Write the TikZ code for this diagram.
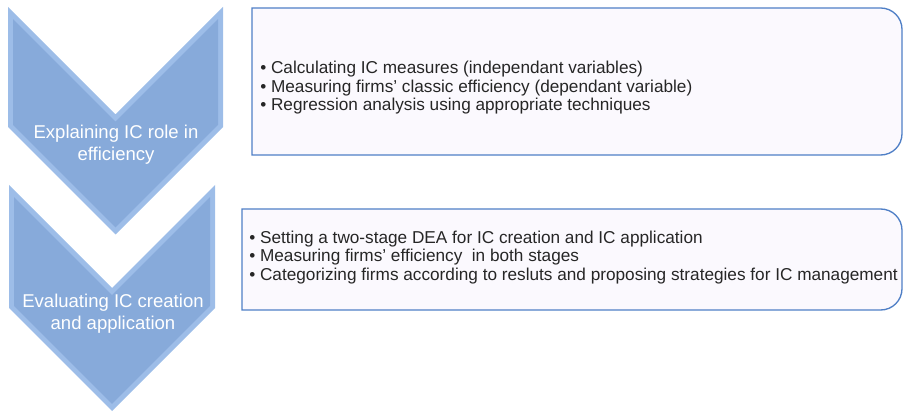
\documentclass[tikz,border=0pt]{standalone}
\usepackage{fontspec}
\setmainfont{Liberation Sans}
\usepackage{tikz}
\usetikzlibrary{positioning}
\definecolor{chevedge}{HTML}{9DBDE8}
\definecolor{chevface}{HTML}{87AADA}
\definecolor{boxline}{HTML}{4F7FC6}
\definecolor{boxfill}{HTML}{FBF9FE}
\tikzset{
  chevout/.style={fill=chevedge,draw=none},
  chevin/.style={fill=chevface,draw=none},
  chevtext/.style={text=white,align=center,inner sep=0.75pt,font=\fontsize{13.9}{16.5}\selectfont},
  taskbox/.style={draw=boxline,fill=boxfill,line width=1pt},
  tasktext/.style={anchor=west,align=left,inner sep=0pt,text=black!85,font=\fontsize{12.9}{13.9}\selectfont}
}

\begin{document}
\begin{tikzpicture}[x=0.75pt,y=0.75pt,yscale=-1,xscale=1]
\useasboundingbox (0,0) rectangle (903,413);

%Shape: Chevron upper
\draw [chevout] (8,7) -- (115.5,114.5) -- (223,7) -- (223,127) -- (115.5,234.5) -- (8,127) -- cycle ;
\draw [chevin] (13,19.1) -- (115.5,121.6) -- (218,19.1) -- (218,124.9) -- (115.5,227.4) -- (13,124.9) -- cycle ;
%Shape: Chevron lower
\draw [chevout] (9,185) -- (112,288) -- (215,185) -- (215,308) -- (112,411) -- (9,308) -- cycle ;
\draw [chevin] (14,197.1) -- (112,295.1) -- (210,197.1) -- (210,305.9) -- (112,403.9) -- (14,305.9) -- cycle ;

%Shape: Box upper (right side rounded)
\draw [taskbox] (252,155) -- (252,8) [rounded corners=16] -- (902,8) -- (902,155) [sharp corners] -- cycle ;
%Shape: Box lower (right side rounded)
\draw [taskbox] (242,310) -- (242,209) [rounded corners=16] -- (902,209) -- (902,310) [sharp corners] -- cycle ;

% Text Node
\draw (116,145) node [chevtext] (explain) {Explaining IC role in\\efficiency};
% Text Node
\draw (113,314) node [chevtext] (evaluate) {Evaluating IC creation\\and application};
% Text Node
\draw (260,88) node [tasktext] (regtasks) {\textbullet\ Calculating IC measures (independant variables)\\
\textbullet\ Measuring firms' classic efficiency (dependant variable)\\
\textbullet\ Regression analysis using appropriate techniques};
% Text Node
\draw (249,257.5) node [tasktext] (deatasks) {\textbullet\ Setting a two-stage DEA for IC creation and IC application\\
\textbullet\ Measuring firms' efficiency\ \ in both stages\\
\textbullet\ Categorizing firms according to resluts and proposing strategies for IC management};

\end{tikzpicture}
\end{document}
